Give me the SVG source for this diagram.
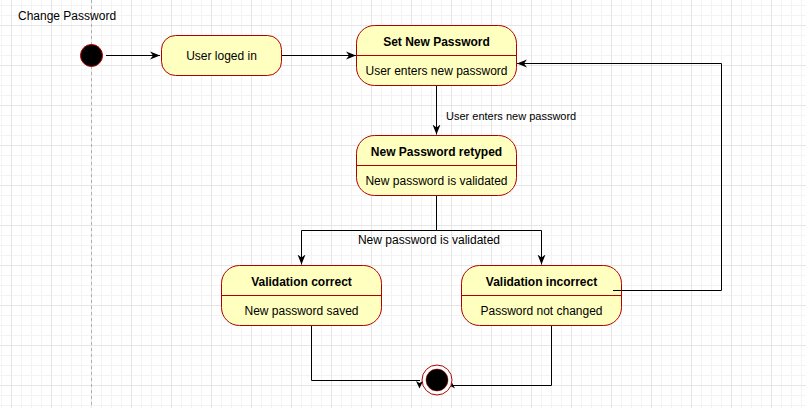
<svg xmlns="http://www.w3.org/2000/svg" width="806" height="408" viewBox="0 0 806 408">
<defs>
<pattern id="grid" patternUnits="userSpaceOnUse" x="11" y="25" width="40" height="40">
<path d="M10.5,0V40M20.5,0V40M30.5,0V40M0,10.5H40M0,20.5H40M0,30.5H40" stroke="#f3f3f3" stroke-width="1" fill="none"/>
<path d="M0.5,0V40M0,0.5H40" stroke="#e6e6e6" stroke-width="1" fill="none"/>
</pattern>
<marker id="arr" markerUnits="userSpaceOnUse" markerWidth="12" markerHeight="10" refX="10" refY="4" orient="auto" viewBox="0 0 12 8">
<path d="M0,0 L10,4 L0,8 L3,4 Z" fill="#000"/>
</marker>
<style>
.st{fill:#ffffc0;stroke:#b20000;stroke-width:1}
.dv{stroke:#b20000;stroke-width:1}
.t{font-family:"Liberation Sans",Arial,sans-serif;font-size:12px;fill:#000;text-anchor:middle}
.b{font-weight:bold}
.e{fill:none;stroke:#000;stroke-width:1}
.lbl{font-family:"Liberation Sans",Arial,sans-serif;fill:#000}
</style>
</defs>
<rect width="806" height="408" fill="#fff"/>
<rect width="806" height="408" fill="url(#grid)"/>
<line x1="91.5" y1="0" x2="91.5" y2="408" stroke="#b0b0b0" stroke-dasharray="3 3"/>
<text class="lbl" x="18" y="20" font-size="12">Change Password</text>

<g id="edges">
<path class="e" d="M106,55.5H160" marker-end="url(#arr)"/>
<path class="e" d="M282,55.5H356" marker-end="url(#arr)"/>
<path class="e" d="M436.5,85.5V134.5" marker-end="url(#arr)"/>
<text class="lbl" x="446" y="120" font-size="11">User enters new password</text>
<path class="e" d="M436.5,195.5V230.5H301.5V264.5" marker-end="url(#arr)"/>
<path class="e" d="M436.5,230.5H541.5V264.5" marker-end="url(#arr)"/>
<text class="lbl" x="429" y="244" font-size="12" text-anchor="middle">New password is validated</text>
<path class="e" d="M613,290.5H721.5V63.5H517" marker-end="url(#arr)"/>
<path class="e" d="M311.5,325.5V380.5H420"/>
<path d="M416,381 L419.5,388.5 L423,381 L419.5,383 Z" fill="#000"/>
<path class="e" d="M551.5,325.5V385.5H453"/>
<path d="M448,388.5 L451.5,381.5 L455,388.5 L451.5,386.5 Z" fill="#000"/>
</g>

<g id="start">
<circle cx="91.5" cy="55.5" r="11" fill="#000" stroke="#b20000"/>
</g>

<g id="userLogedIn">
<rect class="st" x="161.5" y="35.5" width="120" height="40" rx="14"/>
<text class="t" x="221.5" y="60">User loged in</text>
</g>

<g id="setNewPassword">
<rect class="st" x="356.5" y="25.5" width="160" height="60" rx="18"/>
<line class="dv" x1="356.5" y1="55.5" x2="516.5" y2="55.5"/>
<text class="t b" x="436.5" y="46">Set New Password</text>
<text class="t" x="436.5" y="75">User enters new password</text>
</g>

<g id="newPasswordRetyped">
<rect class="st" x="356.5" y="135.5" width="160" height="60" rx="18"/>
<line class="dv" x1="356.5" y1="165.5" x2="516.5" y2="165.5"/>
<text class="t b" x="436.5" y="156">New Password retyped</text>
<text class="t" x="436.5" y="185">New password is validated</text>
</g>

<g id="validationCorrect">
<rect class="st" x="221.5" y="265.5" width="160" height="60" rx="18"/>
<line class="dv" x1="221.5" y1="295.5" x2="381.5" y2="295.5"/>
<text class="t b" x="301.5" y="286">Validation correct</text>
<text class="t" x="301.5" y="315">New password saved</text>
</g>

<g id="validationIncorrect">
<rect class="st" x="461.5" y="265.5" width="160" height="60" rx="18"/>
<line class="dv" x1="461.5" y1="295.5" x2="621.5" y2="295.5"/>
<text class="t b" x="541.5" y="286">Validation incorrect</text>
<text class="t" x="541.5" y="315">Password not changed</text>
</g>
<line x1="613" y1="290.5" x2="621.5" y2="290.5" stroke="#000"/>

<g id="end">
<circle cx="437" cy="380" r="15" fill="#fff" stroke="#b20000"/>
<circle cx="437" cy="380" r="11" fill="#000" stroke="#b20000" stroke-width="0.5"/>
</g>
</svg>
